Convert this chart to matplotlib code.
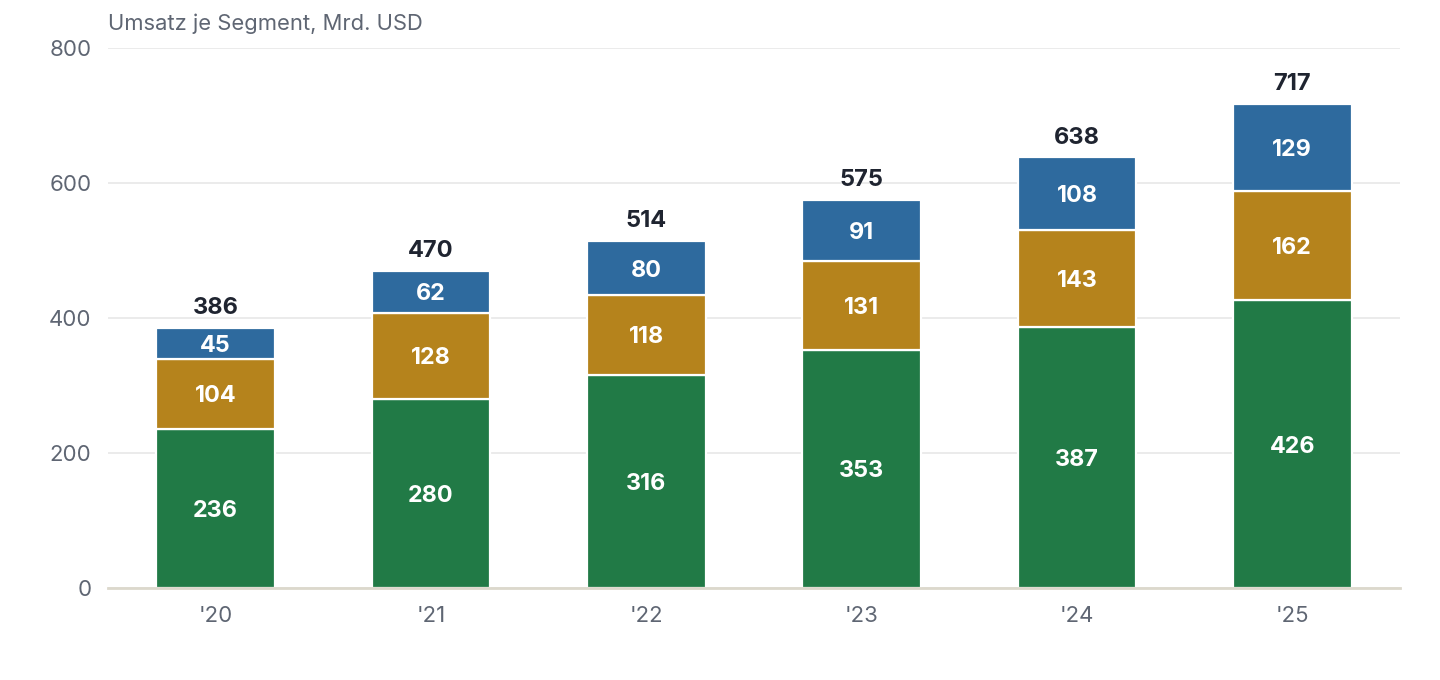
import matplotlib
matplotlib.use("Agg")
import matplotlib.pyplot as plt
import matplotlib.transforms as mtransforms
import numpy as np

categories = ["'20", "'21", "'22", "'23", "'24", "'25"]
seg_green = [236, 280, 316, 353, 387, 426]
seg_gold = [104, 128, 118, 131, 143, 162]
seg_blue = [45, 62, 80, 91, 108, 129]
totals = [386, 470, 514, 575, 638, 717]
yticks = [0, 200, 400, 600, 800]

colors = ["#217a46", "#b5831c", "#2e6a9e"]

plt.rcParams['font.family'] = ['Inter', 'DejaVu Sans']

fig = plt.figure(figsize=(14.4, 6.8), dpi=100)
ax = fig.add_axes([0.075, 0.1353, 0.8972, 0.7941])

shift = mtransforms.ScaledTranslation(0, -2.5 / 100, fig.dpi_scale_trans)
tr = ax.transData + shift

x = np.arange(len(categories))
w = 0.55
bottom = np.zeros(len(categories))
for vals, col in zip([seg_green, seg_gold, seg_blue], colors):
    vals = np.array(vals, dtype=float)
    ax.bar(x, vals, w, bottom=bottom, color=col, edgecolor="white", linewidth=1.6, zorder=3)
    for xi, b, v in zip(x, bottom, vals):
        ax.text(xi, b + v / 2, f"{int(v)}", ha="center", va="center", color="white",
                fontsize=16.8, fontweight="bold", zorder=4, transform=tr)
    bottom += vals

for xi, b, t in zip(x, bottom, totals):
    ax.text(xi, b + 33, f"{t}", ha="center", va="center", color="#1f2430",
            fontsize=17, fontweight="bold", zorder=4, transform=tr)

ax.set_xlim(-0.5, len(categories) - 0.5)
ax.set_ylim(0, 800)
ax.set_yticks(yticks)
ax.set_yticklabels([str(t) for t in yticks])
ax.set_xticks(x)
ax.set_xticklabels(categories)
ax.tick_params(axis="both", length=0, labelsize=16, labelcolor="#5f6673")
ax.tick_params(axis="x", pad=13)
ax.tick_params(axis="y", pad=12)
ax.grid(axis="y", color="#e8e8e8", linewidth=1.2, zorder=0)
for s in ["top", "right", "left"]:
    ax.spines[s].set_visible(False)
ax.spines["bottom"].set_color("#dcd8cc")
ax.spines["bottom"].set_linewidth(2)
ax.spines["bottom"].set_zorder(5)

fig.text(108 / 1440, 1 - 24 / 680, "Umsatz je Segment, Mrd. USD", ha="left", va="center",
         fontsize=15.8, color="#5f6673")

fig.savefig("out.png", dpi=100)
